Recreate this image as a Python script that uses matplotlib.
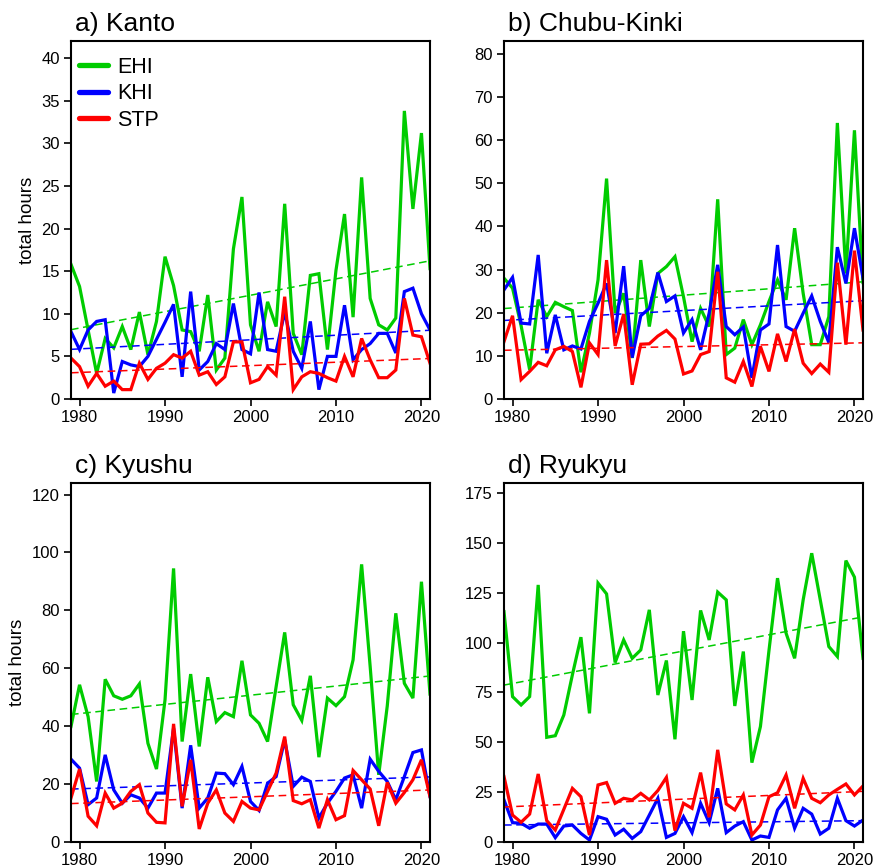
import numpy as np
import matplotlib
matplotlib.use('Agg')
import matplotlib.pyplot as plt
from matplotlib.lines import Line2D

plt.rcParams['font.family'] = ['Liberation Sans', 'DejaVu Sans']

years = np.arange(1979, 2022)

# a) Kanto
kanto_ehi = [15.8, 13.2, 8.1, 3.0, 7.1, 6.0, 8.5, 5.8, 10.2, 5.2,
             9.1, 16.7, 13.3, 8.1, 7.9, 5.6, 12.2, 3.4, 4.8, 17.6,
             23.7, 8.7, 5.6, 11.4, 8.5, 22.9, 7.7, 5.2, 14.5, 14.7,
             5.8, 15.1, 21.7, 9.6, 26.0, 11.8, 8.7, 8.1, 9.5, 33.8,
             22.3, 31.2, 15.3]
kanto_khi = [7.9, 5.8, 8.1, 9.1, 9.3, 0.7, 4.4, 4.0, 3.8, 5.0,
             7.0, 9.0, 11.1, 2.6, 12.6, 3.4, 4.4, 6.5, 5.8, 11.2,
             5.8, 5.3, 12.5, 5.8, 5.6, 10.2, 5.6, 3.6, 9.1, 1.1,
             5.0, 5.0, 11.0, 4.6, 5.8, 6.5, 7.7, 7.7, 5.4, 12.6,
             13.0, 10.0, 8.1]
kanto_stp = [4.8, 3.8, 1.5, 3.0, 1.5, 2.1, 1.1, 1.1, 4.2, 2.3,
             3.6, 4.2, 5.2, 4.8, 5.6, 2.8, 3.2, 1.7, 2.6, 6.7,
             6.7, 1.9, 2.3, 3.8, 2.8, 12.0, 1.1, 2.6, 3.2, 3.0,
             2.5, 2.1, 5.0, 2.6, 7.1, 4.6, 2.5, 2.5, 3.4, 11.8,
             7.5, 7.3, 4.2]

# b) Chubu-Kinki
chubu_ehi = [28.0, 25.7, 17.0, 6.8, 23.0, 19.1, 22.4, 21.4, 20.5, 6.2,
             15.3, 27.6, 51.1, 19.9, 24.5, 9.5, 32.2, 16.8, 29.1, 30.7,
             33.0, 23.7, 13.3, 21.0, 16.8, 46.3, 10.3, 11.8, 18.4, 12.6,
             17.2, 22.6, 27.6, 23.0, 39.6, 24.5, 12.6, 12.6, 19.1, 64.0,
             29.1, 62.3, 27.0]
chubu_khi = [25.3, 28.2, 17.6, 17.4, 33.4, 10.6, 19.5, 11.4, 12.3, 11.6,
             18.0, 22.2, 26.8, 15.3, 30.8, 9.6, 19.3, 21.0, 29.3, 22.6,
             23.9, 15.3, 18.4, 11.4, 19.9, 31.1, 16.8, 14.9, 16.7, 4.9,
             16.0, 17.4, 35.7, 16.8, 15.7, 19.9, 23.9, 18.0, 13.1, 35.2,
             26.8, 39.6, 28.0]
chubu_stp = [13.3, 19.3, 4.5, 6.4, 8.5, 7.7, 11.4, 12.2, 11.0, 2.7,
             13.0, 10.3, 32.2, 12.3, 19.7, 3.3, 12.7, 12.8, 14.6, 15.9,
             13.9, 5.8, 6.5, 10.3, 11.0, 29.5, 4.9, 3.9, 8.7, 2.9,
             12.2, 6.4, 15.1, 8.7, 16.2, 8.3, 5.9, 8.1, 6.2, 31.6,
             12.6, 34.4, 16.0]

# c) Kyushu
kyushu_ehi = [39.9, 54.3, 43.3, 20.9, 56.2, 50.5, 49.3, 50.5, 54.6, 34.1,
              25.2, 49.1, 94.5, 34.7, 58.0, 33.0, 56.9, 41.6, 44.7, 43.3,
              62.6, 43.9, 41.0, 34.7, 53.7, 72.4, 47.4, 42.0, 57.4, 29.3,
              49.7, 47.1, 50.2, 62.9, 95.9, 60.6, 23.2, 47.0, 79.0, 54.8,
              49.7, 89.9, 51.1]
kyushu_khi = [28.6, 25.5, 12.9, 15.2, 30.1, 18.0, 13.4, 16.3, 15.2, 11.7,
              16.9, 16.9, 39.3, 11.7, 33.4, 11.7, 15.2, 23.8, 23.6, 19.8,
              26.1, 14.0, 10.9, 20.3, 22.6, 35.3, 19.2, 22.4, 20.9, 8.3,
              13.4, 17.5, 22.1, 23.2, 11.7, 28.6, 24.4, 20.9, 14.6, 22.6,
              30.9, 31.8, 15.7]
kyushu_stp = [15.2, 25.2, 8.9, 5.6, 16.9, 11.7, 13.4, 17.5, 19.8, 10.0,
              6.8, 6.6, 40.8, 12.3, 28.4, 4.5, 13.4, 18.0, 10.0, 7.1,
              14.0, 11.7, 11.1, 17.5, 23.8, 36.4, 14.3, 13.2, 14.6, 4.8,
              14.6, 7.7, 9.1, 24.7, 21.5, 18.3, 5.6, 20.6, 13.4, 17.1,
              21.5, 28.4, 15.7]

# d) Ryukyu
ryukyu_ehi = [115.5, 72.9, 68.7, 72.9, 128.9, 52.5, 53.3, 63.7, 83.8, 102.7,
              64.5, 129.8, 124.4, 90.0, 101.3, 92.1, 96.3, 116.4, 73.7, 91.0,
              51.5, 105.7, 71.2, 116.1, 101.3, 125.3, 121.4, 68.2, 95.5, 39.8,
              57.9, 96.0, 132.3, 104.7, 92.1, 121.4, 144.8, 121.4, 98.0, 93.0,
              141.1, 132.8, 92.1]
ryukyu_khi = [21.1, 9.7, 9.4, 6.9, 9.0, 9.0, 2.2, 8.0, 8.5, 4.3,
              1.0, 12.7, 11.4, 3.5, 6.4, 1.8, 5.2, 13.5, 21.9, 2.3,
              4.3, 12.7, 4.7, 19.4, 9.7, 26.9, 4.7, 8.0, 10.2, 1.0,
              3.0, 2.3, 16.1, 21.9, 6.9, 16.9, 14.0, 4.0, 6.9, 21.9,
              10.7, 8.0, 11.0]
ryukyu_stp = [32.8, 13.5, 9.9, 14.0, 34.1, 10.7, 6.0, 16.4, 26.9, 22.7,
              3.5, 28.6, 29.8, 19.4, 21.9, 21.1, 24.4, 21.1, 25.8, 32.4,
              5.7, 19.4, 16.9, 34.8, 12.4, 46.2, 19.1, 16.1, 23.6, 3.5,
              8.5, 22.7, 24.7, 33.6, 16.9, 31.9, 21.9, 19.7, 23.6, 26.4,
              29.1, 23.6, 28.1]

titles = ['a) Kanto', 'b) Chubu-Kinki', 'c) Kyushu', 'd) Ryukyu']
labels = ['EHI', 'KHI', 'STP']
colors = ['#00cc00', '#0000ff', '#ff0000']
ytops = [42, 83, 124, 180]
ysteps = [5, 10, 20, 25]


def sen_trend(x, y):
    # Sen's slope (median of pairwise slopes), line through the mean
    i, j = np.triu_indices(len(x), 1)
    slope = np.median((y[j] - y[i]) / (x[j] - x[i]))
    return y.mean() + slope * (x - x.mean())


W, H = 873, 867
fig = plt.figure(figsize=(W / 100, H / 100), dpi=100)

# axes boxes in pixels: left, top, right, bottom
boxes = [(71, 41, 430, 399), (504, 41, 863, 399),
         (71, 483, 430, 842), (504, 483, 863, 842)]

panels = [(kanto_ehi, kanto_khi, kanto_stp),
          (chubu_ehi, chubu_khi, chubu_stp),
          (kyushu_ehi, kyushu_khi, kyushu_stp),
          (ryukyu_ehi, ryukyu_khi, ryukyu_stp)]

for i, series in enumerate(panels):
    l, t, r, b = boxes[i]
    ax = fig.add_axes([l / W, 1 - b / H, (r - l) / W, (b - t) / H])

    for vals, c in zip(series, colors):
        vals = np.array(vals)
        ax.plot(years, vals, color=c, lw=2.3, solid_joinstyle='miter')
        ax.plot(years, sen_trend(years.astype(float), vals), color=c,
                lw=1.1, dashes=(5, 3))

    ax.set_xlim(1979, 2021)
    ax.set_ylim(0, ytops[i])
    ax.set_xticks([1980, 1990, 2000, 2010, 2020])
    ax.set_yticks(np.arange(0, ytops[i], ysteps[i]))
    ax.tick_params(direction='out', length=5, width=1.2, labelsize=12, pad=3,
                   top=False, right=False)
    for s in ax.spines.values():
        s.set_linewidth(1.5)

    ax.text(0.01, 1.015, titles[i], transform=ax.transAxes, fontsize=19,
            ha='left', va='bottom')
    if i % 2 == 0:
        ax.set_ylabel('total hours', fontsize=13.5, labelpad=4)

    if i == 0:
        handles = [Line2D([], [], color=c, lw=3.8, solid_capstyle='round')
                   for c in colors]
        ax.legend(handles, labels, loc='upper left', frameon=False,
                  bbox_to_anchor=(0.0, 0.977),
                  fontsize=15.5, handlelength=1.35, handletextpad=0.45,
                  labelspacing=0.25, borderpad=0.0, borderaxespad=0.35)

fig.savefig('out.png', dpi=100)
